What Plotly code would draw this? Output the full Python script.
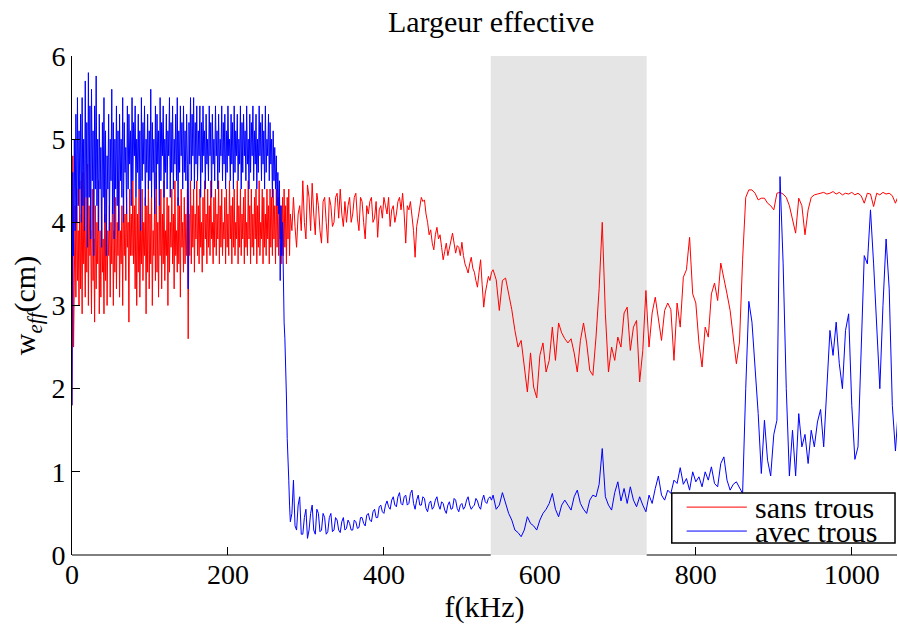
import numpy as np
import plotly.graph_objects as go

# frequency grids (kHz): 1 kHz steps up to 280, 2 kHz up to 540, 4 kHz above
freq_a = np.arange(0, 281, 1)
freq_b = np.arange(282, 541, 2)
freq_c = np.arange(544, 1061, 4)

# w_eff (cm), "sans trous"
red_a = [
    1.8, 4.8, 2.5, 3.6, 4.2, 3.1, 4.4, 3.3, 3.9, 3.0,
    4.5, 3.2, 4.1, 2.9, 4.6, 3.5, 4.0, 3.1, 4.3, 3.4,
    4.7, 3.0, 4.2, 3.6, 3.9, 2.9, 4.4, 3.3, 3.8, 2.8,
    4.2, 3.2, 4.0, 3.5, 4.5, 2.9, 3.9, 3.1, 4.3, 3.4,
    3.8, 2.9, 4.1, 3.3, 4.4, 3.0, 3.9, 3.6, 4.2, 3.1,
    4.0, 3.5, 4.4, 3.0, 3.9, 3.4, 4.3, 3.2, 4.0, 3.6,
    4.5, 3.1, 3.9, 3.5, 4.2, 3.0, 4.4, 3.6, 4.1, 3.3,
    4.3, 3.7, 4.0, 2.8, 4.4, 3.6, 4.1, 3.6, 4.5, 3.5,
    4.2, 3.2, 4.3, 3.0, 4.1, 3.4, 4.4, 3.1, 3.9, 3.5,
    4.4, 3.3, 4.0, 3.6, 4.3, 2.9, 4.2, 3.4, 4.5, 3.2,
    4.1, 3.5, 4.4, 3.0, 3.9, 3.6, 4.3, 3.3, 4.6, 3.4,
    4.0, 3.1, 4.2, 3.6, 4.4, 3.2, 4.1, 3.5, 4.5, 3.3,
    3.9, 3.6, 4.3, 3.0, 4.2, 3.4, 4.0, 3.7, 4.4, 3.5,
    4.1, 3.2, 4.5, 3.6, 3.9, 3.4, 4.3, 3.5, 4.2, 3.1,
    4.4, 3.7, 4.0, 3.4, 4.3, 3.5, 4.1, 3.6, 4.4, 2.6,
    4.1, 3.6, 4.5, 3.5, 4.2, 3.7, 4.4, 3.4, 4.1, 3.8,
    4.5, 3.6, 4.2, 3.5, 4.4, 3.7, 4.0, 3.4, 4.3, 3.6,
    4.5, 3.8, 4.1, 3.5, 4.4, 3.7, 4.2, 3.6, 4.5, 3.8,
    4.0, 3.5, 4.3, 3.7, 4.4, 3.6, 4.1, 3.8, 4.5, 3.5,
    4.2, 3.7, 4.4, 3.6, 4.0, 3.8, 4.3, 3.5, 4.4, 3.7,
    4.1, 3.6, 4.5, 3.8, 4.2, 3.5, 4.3, 3.7, 4.4, 3.6,
    4.0, 3.8, 4.5, 3.5, 4.2, 3.7, 4.4, 3.6, 4.1, 3.8,
    4.3, 3.5, 4.4, 3.7, 4.0, 3.6, 4.5, 3.8, 4.2, 3.5,
    4.4, 3.7, 4.1, 3.6, 4.3, 3.8, 4.4, 3.5, 4.2, 3.7,
    4.5, 3.6, 4.0, 3.8, 4.4, 3.5, 4.3, 3.7, 4.1, 3.6,
    4.4, 3.8, 4.2, 3.5, 4.4, 3.7, 4.3, 3.6, 4.4, 3.8,
    4.2, 3.5, 4.4, 3.7, 4.3, 3.6, 4.4, 3.8, 4.2, 3.5,
    4.3, 3.6, 4.4, 3.7, 4.2, 3.5, 4.3, 3.8, 4.4, 3.6,
    4.1,
]
red_b = [
    3.9, 4.3, 3.95, 3.7, 4.1, 4.2, 3.9, 4.5, 4.0, 3.8,
    4.45, 4.3, 3.9, 4.47, 4.1, 3.85, 4.35, 4.2, 3.9, 3.75,
    4.25, 4.3, 4.0, 3.75, 4.3, 4.2, 3.95, 4.0, 4.3, 4.35,
    4.05, 4.4, 4.1, 3.95, 4.25, 4.0, 4.2, 4.3, 4.0, 4.1,
    4.3, 4.35, 4.05, 3.9, 4.3, 4.25, 4.0, 3.8, 4.2, 4.1,
    4.25, 4.3, 4.0, 4.05, 4.25, 3.82, 4.15, 4.2, 4.05, 4.3,
    4.2, 4.1, 4.3, 3.95, 4.15, 4.2, 4.0, 4.1, 4.25, 4.3,
    4.15, 4.35, 4.1, 3.75, 4.2, 4.15, 4.25, 4.05, 3.9, 3.58,
    3.95, 4.06, 4.2, 4.3, 4.25, 4.27, 4.1, 4.0, 3.85, 3.91,
    3.75, 3.67, 3.85, 3.94, 3.8, 3.85, 3.7, 3.55, 3.65, 3.75,
    3.6, 3.7, 3.8, 3.87, 3.75, 3.63, 3.72, 3.7, 3.6, 3.76,
    3.6, 3.5, 3.45, 3.39, 3.5, 3.58, 3.45, 3.4, 3.3, 3.22,
    3.4, 3.55, 3.25, 2.98, 3.15, 3.27, 3.35, 3.3, 3.4, 3.43,
]
red_c = [
    3.31, 2.94, 3.3, 3.33, 3.15,
    2.95, 2.7, 2.5, 2.58, 2.3, 1.96, 2.43, 2.02, 1.89, 2.4,
    2.55, 2.2, 2.34, 2.74, 2.34, 2.79, 2.67, 2.6, 2.55, 2.6,
    2.43, 2.2, 2.58, 2.79, 2.55, 2.22, 2.16, 2.62, 3.2, 4.0,
    2.9, 2.2, 2.5, 2.34, 2.62, 2.5, 2.91, 2.98, 2.46, 2.74,
    2.82, 2.08, 2.46, 3.18, 2.5, 2.91, 3.1, 2.82, 2.58, 2.94,
    3.03, 2.95, 2.34, 3.03, 2.74, 3.34, 3.43, 3.82, 3.14, 3.03,
    2.55, 2.26, 2.74, 2.62, 3.14, 3.27, 3.06, 3.51, 3.34, 3.14,
    2.94, 2.58, 2.3, 2.56, 3.55, 4.3, 4.39, 4.39, 4.35, 4.27,
    4.29, 4.29, 4.23, 4.2, 4.15, 4.35, 4.36, 4.34, 4.3, 4.2,
    4.05, 3.87, 4.29, 4.2, 3.85, 4.15, 4.3, 4.33, 4.34, 4.35,
    4.36, 4.34, 4.35, 4.37, 4.34, 4.36, 4.33, 4.35, 4.34, 4.36,
    4.33, 4.35, 4.32, 4.23, 4.35, 4.34, 4.19, 4.35, 4.33, 4.36,
    4.34, 4.35, 4.32, 4.23, 4.33,
]

# w_eff (cm), "avec trous"
blue_a = [
    1.8, 4.6, 3.6, 5.0, 3.9, 5.3, 4.0, 5.5, 4.2, 5.1,
    4.4, 5.3, 4.0, 5.5, 4.2, 5.0, 3.9, 5.7, 4.3, 5.2,
    3.7, 5.8, 4.3, 5.4, 3.8, 5.6, 4.5, 5.1, 3.6, 5.4,
    4.4, 5.76, 4.2, 5.0, 3.9, 5.3, 4.4, 4.9, 3.7, 5.2,
    4.3, 5.5, 4.0, 5.1, 3.6, 4.8, 4.4, 5.3, 3.9, 5.0,
    4.5, 5.6, 4.1, 5.2, 3.8, 5.0, 4.4, 5.4, 4.2, 5.1,
    3.9, 5.3, 4.5, 5.0, 4.3, 5.5, 4.0, 5.2, 4.6, 4.9,
    4.1, 5.4, 4.4, 5.3, 4.7, 5.1, 4.2, 5.5, 4.5, 5.2,
    4.8, 5.4, 4.3, 5.0, 4.6, 5.3, 4.4, 5.1, 3.9, 5.5,
    4.5, 5.2, 4.7, 5.4, 4.2, 5.0, 4.6, 5.3, 4.4, 5.1,
    4.5, 5.6, 4.3, 5.2, 4.6, 5.0, 4.1, 5.4, 4.4, 5.3,
    4.7, 5.1, 4.2, 5.5, 4.5, 5.2, 4.8, 5.4, 4.3, 5.0,
    4.6, 5.3, 4.4, 5.1, 4.8, 5.5, 4.3, 5.2, 4.6, 5.4,
    4.4, 5.0, 4.7, 5.3, 4.5, 5.5, 4.2, 5.1, 4.6, 5.4,
    4.8, 5.2, 4.4, 5.4, 4.6, 5.1, 4.5, 5.3, 4.7, 3.2,
    5.2, 4.7, 5.5, 4.5, 5.3, 4.8, 5.5, 4.4, 5.2, 4.7,
    5.4, 4.5, 5.1, 4.8, 5.4, 4.3, 5.2, 4.6, 5.4, 4.8,
    5.1, 4.4, 5.3, 4.7, 5.0, 4.5, 5.4, 4.8, 5.2, 4.3,
    5.3, 4.7, 5.0, 4.5, 5.4, 4.8, 5.1, 4.4, 5.3, 4.6,
    5.0, 4.8, 5.4, 4.5, 5.2, 4.7, 5.3, 4.4, 5.1, 4.6,
    5.4, 4.8, 5.0, 4.5, 5.3, 4.7, 5.2, 4.4, 5.4, 4.6,
    5.1, 4.8, 5.3, 4.5, 5.0, 4.7, 5.4, 4.4, 5.2, 4.6,
    5.3, 4.8, 5.1, 4.5, 5.4, 4.7, 5.0, 4.4, 5.3, 4.6,
    5.2, 4.8, 5.4, 4.5, 5.1, 4.7, 5.3, 4.4, 5.0, 4.6,
    5.4, 4.8, 5.2, 4.5, 5.3, 4.7, 5.1, 4.4, 5.4, 4.6,
    5.0, 4.8, 5.3, 4.5, 5.2, 4.7, 5.0, 4.3, 5.1, 4.5,
    4.9, 4.4, 4.8, 4.2, 4.6, 4.1, 4.5, 3.3, 4.2, 3.6,
    4.0, 3.0, 2.8, 2.6, 2.3, 1.9, 1.4, 1.0, 0.9, 0.6,
    0.4,
]
blue_b = [
    0.5, 0.9, 0.35, 0.3, 0.6, 0.7, 0.25, 0.25, 0.45, 0.55,
    0.2, 0.3, 0.5, 0.6, 0.3, 0.25, 0.55, 0.5, 0.28, 0.3,
    0.5, 0.45, 0.25, 0.28, 0.45, 0.5, 0.28, 0.3, 0.45, 0.42,
    0.3, 0.27, 0.4, 0.45, 0.3, 0.32, 0.42, 0.38, 0.3, 0.3,
    0.42, 0.4, 0.32, 0.33, 0.45, 0.45, 0.38, 0.35, 0.48, 0.5,
    0.42, 0.4, 0.52, 0.55, 0.45, 0.45, 0.58, 0.6, 0.52, 0.5,
    0.6, 0.65, 0.58, 0.55, 0.66, 0.7, 0.6, 0.58, 0.7, 0.75,
    0.62, 0.6, 0.7, 0.72, 0.6, 0.62, 0.74, 0.78, 0.62, 0.55,
    0.66, 0.72, 0.6, 0.6, 0.7, 0.68, 0.56, 0.52, 0.62, 0.65,
    0.55, 0.58, 0.66, 0.7, 0.6, 0.55, 0.64, 0.62, 0.54, 0.5,
    0.6, 0.64, 0.55, 0.56, 0.68, 0.66, 0.56, 0.52, 0.6, 0.62,
    0.55, 0.58, 0.66, 0.7, 0.6, 0.55, 0.58, 0.6, 0.68, 0.65,
    0.58, 0.55, 0.66, 0.72, 0.64, 0.62, 0.68, 0.7, 0.66, 0.72,
]
blue_c = [
    0.55, 0.6, 0.75, 0.62, 0.5,
    0.42, 0.3, 0.27, 0.22, 0.3, 0.46, 0.38, 0.35, 0.3, 0.42,
    0.5, 0.55, 0.62, 0.74, 0.55, 0.46, 0.6, 0.66, 0.6, 0.54,
    0.7, 0.78, 0.62, 0.55, 0.5, 0.66, 0.72, 0.7, 0.85, 1.28,
    0.7, 0.6, 0.54, 0.75, 0.88, 0.65, 0.8, 0.62, 0.82, 0.66,
    0.58, 0.7, 0.6, 0.52, 0.72, 0.62, 0.8, 0.95, 0.72, 0.66,
    0.78, 0.74, 0.9, 0.86, 1.05, 0.85, 0.92, 0.78, 1.0, 0.88,
    0.94, 0.82, 1.0, 0.9, 1.06, 0.86, 0.82, 1.1, 1.18, 0.9,
    0.78, 0.85, 0.88, 0.8, 0.74, 2.0, 3.05, 2.8, 2.3, 1.7,
    0.98, 1.62, 1.14, 0.95, 1.45, 1.62, 4.55, 3.5, 2.0, 0.95,
    1.5, 0.95, 1.7, 1.3, 1.45, 1.1, 1.5, 1.3, 1.6, 1.75,
    1.3, 1.95, 2.7, 2.4, 2.8, 2.3, 2.0, 2.7, 2.9, 1.8,
    1.15, 1.3, 2.4, 3.6, 3.5, 4.15, 3.5, 2.7, 2.0, 3.0,
    3.8, 3.2, 1.8, 1.25, 1.8,
]

band_start, band_end = 537, 737   # shaded band (kHz)
x_max = 1058
x_ticks = [0, 200, 400, 600, 800, 1000]
y_ticks = [0, 1, 2, 3, 4, 5, 6]

freq = np.concatenate([freq_a, freq_b, freq_c])
sans_trous = np.concatenate([red_a, red_b, red_c])
avec_trous = np.concatenate([blue_a, blue_b, blue_c])

FONT = "Liberation Serif"

fig = go.Figure()

# gray band as a filled trace so it hides the bottom tick inside it
fig.add_trace(go.Scatter(
    x=[band_start, band_end, band_end, band_start],
    y=[0, 0, 6, 6],
    fill="toself", fillcolor="#e5e5e5",
    mode="lines", line=dict(width=0),
    hoverinfo="skip", showlegend=False,
))
fig.add_trace(go.Scatter(x=freq, y=sans_trous, mode="lines", name="sans trous",
                         line=dict(color="#ff0000", width=1), showlegend=False))
fig.add_trace(go.Scatter(x=freq, y=avec_trous, mode="lines", name="avec trous",
                         line=dict(color="#0000ff", width=1), showlegend=False))

# bottom axis line, interrupted by the band
for a, b in [(0, band_start), (band_end, x_max)]:
    fig.add_shape(type="line", xref="x", yref="paper", x0=a, x1=b, y0=0, y1=0,
                  line=dict(color="black", width=1))

# legend box drawn by hand (MATLAB style)
fig.add_shape(type="rect", xref="paper", yref="paper",
              x0=0.727, x1=0.9976, y0=0.024, y1=0.124,
              line=dict(color="black", width=1.5), fillcolor="white", layer="above")
legend_rows = [("sans trous", "#ff0000", 0.096), ("avec trous", "#0000ff", 0.048)]
for label, color, yy in legend_rows:
    fig.add_shape(type="line", xref="paper", yref="paper",
                  x0=0.745, x1=0.818, y0=yy, y1=yy,
                  line=dict(color=color, width=1), layer="above")
    fig.add_annotation(text=label, xref="paper", yref="paper", x=0.826, y=yy,
                       xanchor="left", yanchor="middle", showarrow=False,
                       font=dict(family=FONT, size=30, color="black"))

fig.update_layout(
    width=898, height=626,
    margin=dict(l=72, r=1, t=56, b=71),
    paper_bgcolor="white", plot_bgcolor="white",
    font=dict(family=FONT, size=28, color="black"),
    title=dict(text="Largeur effective", x=0.508, xref="paper", xanchor="center",
               y=0.966, yref="container", yanchor="middle",
               font=dict(family=FONT, size=30, color="black")),
    showlegend=False,
)
fig.update_xaxes(
    range=[0, x_max], tickvals=x_ticks, ticks="inside", ticklen=8,
    tickcolor="black", showline=False, showgrid=False, zeroline=False,
    layer="below traces", automargin=False,
    tickfont=dict(family=FONT, size=28),
    title=dict(text="f(kHz)", font=dict(family=FONT, size=30), standoff=4),
)
fig.update_yaxes(
    range=[0, 6], tickvals=y_ticks, ticks="inside", ticklen=8,
    tickcolor="black", showline=True, linecolor="black", linewidth=1,
    showgrid=False, zeroline=False, automargin=False,
    tickfont=dict(family=FONT, size=28),
    title=dict(text="w<sub><i>eff</i></sub>(cm)", font=dict(family=FONT, size=30), standoff=6),
)

# drop the default 8 px page margin so the figure fills the window exactly
fig.write_html("out.html", config={"displayModeBar": False},
               post_script="document.body.style.margin = '0';")
